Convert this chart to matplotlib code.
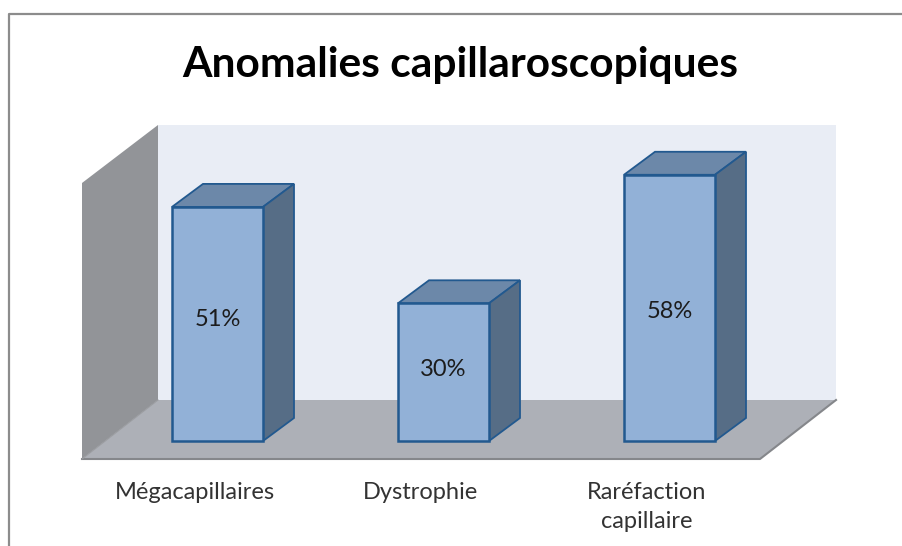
import matplotlib
matplotlib.use("Agg")
import matplotlib.pyplot as plt
from matplotlib.patches import Polygon

categories = ["Mégacapillaires", "Dystrophie", "Raréfaction\ncapillaire"]
values = [51, 30, 58]
title = "Anomalies capillaroscopiques"

W, H = 903, 546
plt.rcParams['font.family'] = ['Lato', 'DejaVu Sans']

# one axes over the whole figure, y in percent, x in category index
x_step = 226.0
y_step = 4.59
x0_px = 217.5
y0_px = 441.0

# where the value labels sit, they are not quite centred in the bars
label_y_px = [320, 370, 312]

fig = plt.figure(figsize=(W / 100, H / 100), dpi=100)
ax = fig.add_axes([0, 0, 1, 1])
ax.set_xlim(-x0_px / x_step, (W - x0_px) / x_step)
ax.set_ylim((y0_px - H) / y_step, y0_px / y_step)
ax.axis("off")


def px(x, y):
	return ((x - x0_px) / x_step, (y0_px - y) / y_step)


def poly(points, **kw):
	ax.add_patch(Polygon([px(x, y) for x, y in points], closed=True, **kw))


# outer frame, cut off by the crop on the right and bottom
ax.plot(*zip(px(8.5, H + 2), px(8.5, 13.5), px(W + 2, 13.5)), color="#8c8c8c", lw=1.6, zorder=1)

# back wall, side wall, floor
poly([(158, 125), (836, 125), (836, 400), (158, 400)], fc="#e9edf5", ec="none", zorder=1)
poly([(82, 183), (158, 125), (158, 400), (82, 459)], fc="#929498", ec="none", zorder=1)
poly([(82, 459), (158, 400), (836, 400), (760, 459)], fc="#adb0b7", ec="none", zorder=1)
ax.plot(*zip(px(82, 459), px(760, 459), px(836, 400)), color="#85878b", lw=1.5, zorder=1)
ax.plot(*zip(px(82, 459), px(158, 400)), color="#9a9ca0", lw=0.8, zorder=1)

bar_w = 91 / x_step
dx = 31 / x_step
dy = 23 / y_step
edge = "#22598f"

xs = list(range(len(values)))
ax.bar(xs, values, width=bar_w, color="#92b1d7", edgecolor=edge, linewidth=1.8, zorder=4)

for x, v, ly in zip(xs, values, label_y_px):
	l = x - bar_w / 2
	r = x + bar_w / 2
	# top face
	ax.add_patch(Polygon([(l, v), (r, v), (r + dx, v + dy), (l + dx, v + dy)], closed=True,
		fc="#6c88a9", ec=edge, lw=1.3, zorder=3))
	# side face
	ax.add_patch(Polygon([(r, 0), (r + dx, dy), (r + dx, v + dy), (r, v)], closed=True,
		fc="#566d86", ec=edge, lw=1.3, zorder=3))
	ax.text(x, px(0, ly)[1], str(v) + "%", ha="center", va="center", fontsize=17, color="#1c1c1c", zorder=5)

# category labels
for x, name in zip(xs, categories):
	ly = px(0, 482)[1]
	ax.text(x - 23 / x_step, ly, name, ha="center", va="top", fontsize=17,
		color="#333333", linespacing=1.5, multialignment="center", zorder=5)

tx, ty = px(460, 64.5)
ax.text(tx, ty, title, ha="center", va="center", fontsize=30.6, fontweight="bold", color="black", zorder=5)

fig.savefig("out.png", dpi=100, facecolor="white")
